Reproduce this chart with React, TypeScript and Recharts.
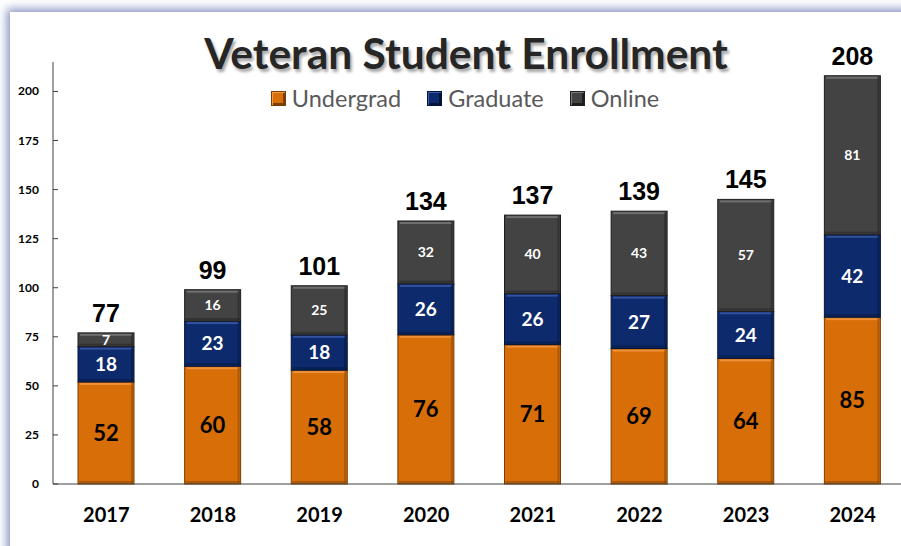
import React from 'react';
import { BarChart, Bar, XAxis, YAxis, LabelList } from 'recharts';

const years = ['2017', '2018', '2019', '2020', '2021', '2022', '2023', '2024'];
const undergrad = [52, 60, 58, 76, 71, 69, 64, 85];
const graduate = [18, 23, 18, 26, 26, 27, 24, 42];
const online = [7, 16, 25, 32, 40, 43, 57, 81];
const yTicks = [0, 25, 50, 75, 100, 125, 150, 175, 200];

const data = years.map((year, i) => ({
  year,
  undergrad: undergrad[i],
  graduate: graduate[i],
  online: online[i],
  total: undergrad[i] + graduate[i] + online[i],
}));

const COLORS = {
  undergrad: { base: '#D76E08', light: '#F39A45', dark: '#7A3D02' },
  graduate: { base: '#0D2A6C', light: '#3C5EAE', dark: '#051336' },
  online: { base: '#434343', light: '#7A7A7A', dark: '#1E1E1E' },
};

const LEGEND = [
  { key: 'undergrad', label: 'Undergrad' },
  { key: 'graduate', label: 'Graduate' },
  { key: 'online', label: 'Online' },
];

// bevelled look like the office chart style
const bevel = (c: { base: string; light: string; dark: string }) => (props: any) => {
  const { x, y, width, height } = props;
  if (!height || height <= 0) return <g />;
  return (
    <g>
      <rect x={x} y={y} width={width} height={height} fill={c.base} stroke={c.dark} strokeWidth={1} />
      <rect x={x + 2} y={y + 1} width={width - 4} height={2} fill={c.light} opacity={0.8} />
      <rect x={x + width - 3} y={y + 1} width={2} height={height - 2} fill={c.dark} opacity={0.45} />
      <rect x={x + 1} y={y + height - 3} width={width - 2} height={2} fill={c.dark} opacity={0.45} />
    </g>
  );
};

const YTick = (props: any) => {
  const { x, y, payload } = props;
  return (
    <g>
      <text x={x} y={y} dy={4} textAnchor="end" fill="#000" fontSize={12} fontWeight="bold" fontFamily="Lato">
        {payload.value}
      </text>
      <line x1={x + 14} x2={x + 19} y1={y} y2={y} stroke="#404040" />
    </g>
  );
};

const LegendBox = () => (
  <div
    style={{
      position: 'absolute',
      left: 0,
      width: 930,
      top: 84,
      display: 'flex',
      justifyContent: 'center',
      alignItems: 'center',
      gap: 26,
      fontFamily: 'Lato',
      fontSize: 23.5,
      color: '#595959',
    }}
  >
    {LEGEND.map((l) => {
      const c = (COLORS as any)[l.key];
      return (
        <div key={l.key} style={{ display: 'flex', alignItems: 'center', gap: 6 }}>
          <span
            style={{
              width: 13,
              height: 13,
              background: c.base,
              border: `1px solid ${c.dark}`,
              boxShadow: `inset 1px 1px 0 ${c.light}, inset -2px -2px 0 ${c.dark}`,
              display: 'inline-block',
            }}
          />
          <span>{l.label}</span>
        </div>
      );
    })}
  </div>
);

export default function App() {
  return (
    <div style={{ position: 'fixed', left: 0, top: 0, width: 901, height: 546, overflow: 'hidden', background: '#fff' }}>
      <div
        style={{
          position: 'absolute',
          left: 10,
          top: 12,
          width: 1000,
          height: 700,
          background: '#fff',
          boxShadow: '-3px -3px 9px rgba(70, 85, 160, 0.65)',
        }}
      />
      <div
        style={{
          position: 'absolute',
          left: 0,
          width: 932,
          top: 27,
          textAlign: 'center',
          fontFamily: 'Lato',
          fontWeight: 'bold',
          fontSize: 42.5,
          color: '#262626',
          textShadow: '2px 3px 3px rgba(0,0,0,0.35)',
        }}
      >
        Veteran Student Enrollment
      </div>
      <div style={{ position: 'absolute', left: 0, top: 0 }}>
        <BarChart width={920} height={546} data={data} margin={{ top: 62, right: 14, left: 0, bottom: 0 }}>
          <XAxis
            dataKey="year"
            height={62}
            tickSize={0}
            tickMargin={24}
            axisLine={{ stroke: '#404040' }}
            tick={{ fill: '#000', fontSize: 20, fontWeight: 'bold', fontFamily: 'Lato' }}
          />
          <YAxis
            width={53}
            domain={[0, 215]}
            ticks={yTicks}
            tickSize={0}
            tickMargin={14}
            axisLine={{ stroke: '#404040' }}
            tick={<YTick />}
          />
          <Bar dataKey="undergrad" stackId="a" barSize={56} shape={bevel(COLORS.undergrad)} isAnimationActive={false}>
            <LabelList dataKey="undergrad" position="center" fill="#000" fontSize={22} fontWeight="bold" fontFamily="Lato" />
          </Bar>
          <Bar dataKey="graduate" stackId="a" barSize={56} shape={bevel(COLORS.graduate)} isAnimationActive={false}>
            <LabelList dataKey="graduate" position="center" fill="#fff" fontSize={19} fontWeight="bold" fontFamily="Lato" />
          </Bar>
          <Bar dataKey="online" stackId="a" barSize={56} shape={bevel(COLORS.online)} isAnimationActive={false}>
            <LabelList dataKey="online" position="center" fill="#fff" fontSize={14} fontWeight="bold" fontFamily="Lato" />
            <LabelList dataKey="total" position="top" offset={11} fill="#000" fontSize={25} fontWeight="bold" fontFamily="Liberation Sans" />
          </Bar>
        </BarChart>
      </div>
      <LegendBox />
    </div>
  );
}
